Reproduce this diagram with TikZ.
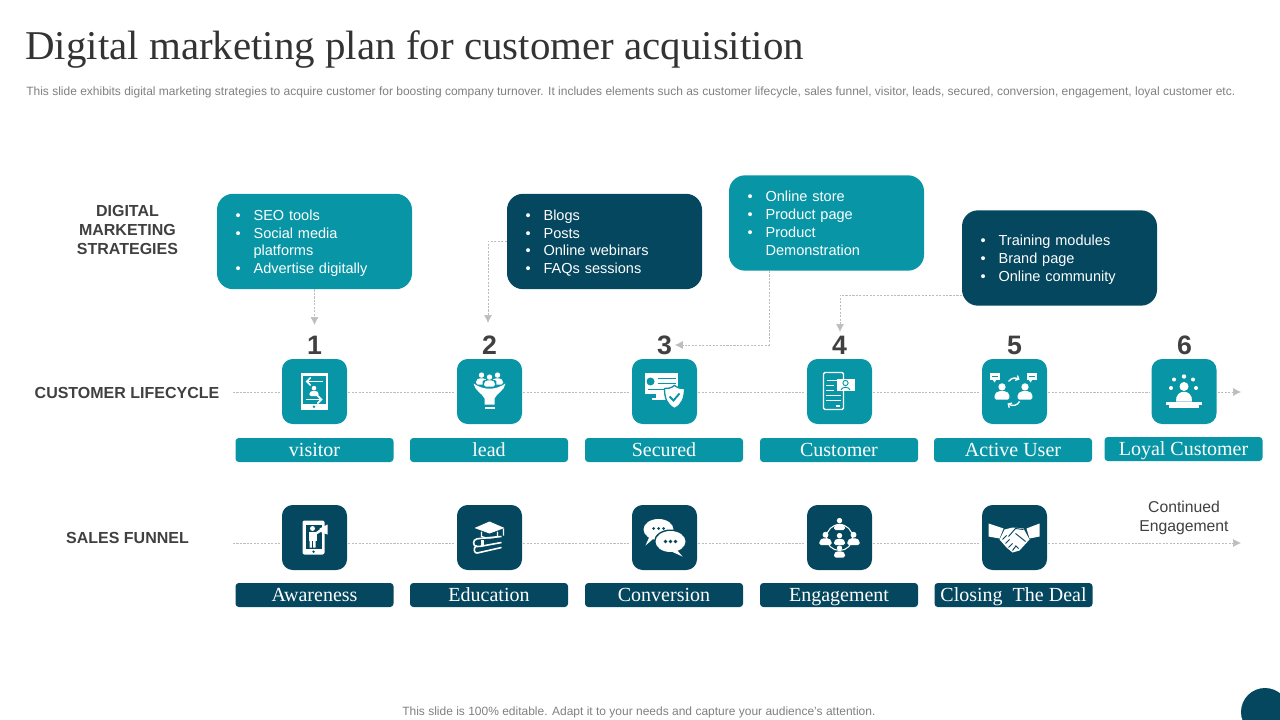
\documentclass[tikz,border=0pt]{standalone}
\usepackage{fontspec}
\setmainfont{Liberation Sans}
\newfontfamily\titlefont{Liberation Serif}
\newfontfamily\tagfont{Liberation Serif}
\usepackage{xcolor}
\usetikzlibrary{arrows.meta, positioning, calc}
\definecolor{TileTeal}{HTML}{0896A6}
\definecolor{TileNavy}{HTML}{04475F}
\definecolor{InkGrey}{HTML}{404040}
\definecolor{SoftGrey}{HTML}{808080}
\definecolor{GuideGrey}{HTML}{BDBDBD}
\newcommand{\stratlist}[1]{\begin{tabular}{@{}p{13.5pt}@{}l@{}}\rule{0pt}{12.3pt}#1\end{tabular}}

\tikzset{
  person/.pic={
    \fill [white] (0,-3.4) circle (2.7);
    \fill [white, rounded corners=1.2pt] (-5.5,6) -- (-5.5,2) -- (-3,-0.2) -- (3,-0.2) -- (5.5,2) -- (5.5,6) -- cycle;
  },
  visitoricon/.pic={
    \fill [white] (-14,-19) rectangle (13,18);
    \fill [TileTeal] (-12,-16) rectangle (11,12);
    \fill [TileTeal] (-0.5,15.2) circle (1.4);
    \draw [white, line width=1.2pt, -{Straight Barb[length=3pt,width=6pt]}] (8,-10) -- (-9,-10);
    \draw [white, line width=1.2pt, -{Straight Barb[length=3pt,width=6pt]}] (-9,8) -- (8,8);
    \pic [scale=0.85] at (-0.5,-0.5) {person};
  },
  funnelicon/.pic={
    \pic at (-8,-13) {person};
    \pic at (8,-13) {person};
    \fill [TileTeal, rounded corners=1pt] (-6.8,-11.5) rectangle (6.8,-4);
    \pic at (0,-11) {person};
    \fill [white] (-16,-8) .. controls (-6,-1) and (6,-1) .. (16,-8) .. controls (15,-1) and (7,2) .. (5,7) -- (5,13) -- (-5,13) -- (-5,7) .. controls (-7,2) and (-15,-1) .. cycle;
    \fill [white] (-5,15) rectangle (5,17.5);
  },
  securedicon/.pic={
    \fill [white] (-20,-19) rectangle (13,2);
    \fill [white] (-9,2) rectangle (1,6);
    \fill [white] (-13,6) rectangle (5,8);
    \fill [TileTeal] (-14,-10) circle (4);
    \draw [TileTeal, line width=0.8pt] (-7,-13) -- (11,-13) (-7,-8) -- (11,-8) (-17,-2) -- (4,-2);
    \fill [white, draw=TileTeal, line width=1pt] (10,-6) .. controls (14,-3) and (17,-3) .. (20,-3) .. controls (20,6) and (18,13) .. (10,17) .. controls (2,13) and (0,6) .. (0,-3) .. controls (3,-3) and (6,-3) .. cycle;
    \draw [TileTeal, line width=1.4pt] (5,5) -- (9,9) -- (15,2);
  },
  customericon/.pic={
    \draw [white, line width=1pt, fill=TileTeal, rounded corners=1pt] (-16,-19) rectangle (4,18);
    \draw [white, line width=0.9pt] (-13,-11) -- (1,-11) (-14,-6) -- (-6,-6) (-14,-1) -- (-6,-1) (-14,4) -- (1,4) (-14,9) -- (1,9) (-4,14.5) -- (0,14.5);
    \fill [white] (-3,-13) rectangle (15,-1);
    \draw [TileTeal, line width=0.7pt] (6,-8.5) circle (2.6) (1.5,-1.5) .. controls (2,-5) and (10,-5) .. (10.5,-1.5);
  },
  activeicon/.pic={
    \fill [white] (-24.5,-19) rectangle (-14.5,-12);
    \fill [white] (-22,-12) -- (-18,-12) -- (-20,-9) -- cycle;
    \fill [white] (12,-19) rectangle (22,-12);
    \fill [white] (14,-12) -- (18,-12) -- (16,-9) -- cycle;
    \draw [TileTeal, line width=0.6pt] (-22.5,-15.5) -- (-16.5,-15.5) (14,-15.5) -- (20,-15.5);
    \pic [scale=1.35] at (-12.5,0) {person};
    \pic [scale=1.35] at (10.5,0) {person};
    \draw [white, line width=1pt, -{Straight Barb[length=2pt,width=4pt]}] (-6,-10) .. controls (-3,-14) and (1,-14) .. (5,-12);
    \draw [white, line width=1pt, -{Straight Barb[length=2pt,width=4pt]}] (5,10) .. controls (3,14) and (-2,15) .. (-7,12);
  },
  loyalicon/.pic={
    \fill [white] (0,-5) circle (4.5);
    \fill [white] (-8,10) .. controls (-9,-3) and (9,-3) .. (8,10) -- cycle;
    \fill [white] (-18,10) rectangle (18,13);
    \fill [white] (-15,13) rectangle (15,16);
    \fill [white] (0,-15) circle (2.2) (-10,-12) circle (2) (9,-12) circle (2) (-13,-3.5) circle (2) (12,-3.5) circle (2);
  },
  awarenessicon/.pic={
    \fill [white, rounded corners=1.5pt] (-12,-17) rectangle (10,17);
    \fill [TileNavy] (-9,-13) rectangle (7,11);
    \fill [TileNavy] (-1,14.2) circle (1.3);
    \fill [white] (-2,-9) circle (2.5);
    \fill [white] (-6,-6) rectangle (2,3);
    \fill [white] (-5,3) rectangle (-2.6,10) (-1.4,3) rectangle (1,10);
    \fill [white] (2,-6) -- (7,-9) -- (7,-6) -- (2,-3) -- cycle;
    \fill [white] (5,-9) -- (13,-13) -- (13,-3) -- (5,-6) -- cycle;
  },
  educationicon/.pic={
    \fill [white] (0,-16) -- (15,-9.5) -- (0,-4) -- (-15,-9.5) -- cycle;
    \draw [white, line width=0.9pt] (-8,-6) -- (-8,-1) .. controls (-3,1) and (3,1) .. (8,-1) -- (8,-6) (14,-9) -- (14,-2);
    \draw [white, line width=1.2pt, rounded corners=2pt] (12,-1) -- (-10,1) .. controls (-17,2) and (-17,9) .. (-10,9) -- (12,5);
    \draw [white, line width=1.2pt, rounded corners=2pt] (-13,8) .. controls (-17,11) and (-15,16) .. (-10,15) -- (12,10);
    \fill [white] (-9,2) rectangle (-6,8);
  },
  conversionicon/.pic={
    \fill [white] (-6,-8) ellipse (15 and 10.5);
    \fill [white] (-15,-1) -- (-12,2) -- (-19,8) -- cycle;
    \fill [TileNavy] (6,4) ellipse (16.5 and 12);
    \fill [white] (6,4) ellipse (15 and 10.5);
    \fill [white] (12,12) -- (18,19) -- (7,14) -- cycle;
    \fill [TileNavy] (-11,-9) circle (1.5) (-6,-9) circle (1.5) (-1,-9) circle (1.5);
    \fill [TileNavy] (1,4) circle (1.9) (6,4) circle (1.9) (11,4) circle (1.9);
  },
  engagementicon/.pic={
    \draw [white, line width=0.8pt] (0,0) circle (13);
    \pic at (0,-13.5) {person};
    \pic [scale=1.1] at (-14,1) {person};
    \pic [scale=1.1] at (14,1) {person};
    \pic at (0,1.5) {person};
    \pic at (0,14) {person};
  },
  dealicon/.pic={
    \fill [white] (-26,-14) -- (-11,-9) -- (-15,1) -- (-26,-1) -- cycle;
    \fill [white] (25,-14) -- (12,-9) -- (15,1) -- (25,-1) -- cycle;
    \fill [white] (-10,-8) -- (-2,-10) -- (9,-9) -- (15,2) -- (5,13) -- (-2,15) -- (-8,10) -- (-15,2) -- cycle;
    \draw [TileNavy, line width=0.7pt] (-6,-1) -- (1,-9) -- (9,-8) (1,-4) -- (11,4) (-12,2) -- (-8,-2) (-9,6) -- (-5,2) (-6,10) -- (-2,6) (-2,13) -- (1,9) (4,11) -- (1,8);
  }
}

\begin{document}
\begin{tikzpicture}[x=0.75pt, y=-0.75pt, >={Latex[length=6pt,width=6pt]},
    headline/.style={anchor=base west, inner sep=0pt},
    sidelabel/.style={font=\bfseries\fontsize{12}{14.25}\selectfont, text=InkGrey, align=center},
    stratbox/.style={rounded corners=12pt, minimum width=146.25pt, minimum height=71.5pt, inner sep=0pt, inner xsep=13.9pt,
        text width=118.4pt, align=left, text=white, font=\fontsize{10.9}{13.3}\selectfont},
    numeral/.style={font=\bfseries\fontsize{20}{20}\selectfont, text=InkGrey, inner sep=2pt},
    tile/.style={rounded corners=8pt, minimum size=48.75pt, inner sep=0pt, outer sep=1pt},
    tagbar/.style={rounded corners=2.5pt, minimum width=118.5pt, minimum height=18pt, inner sep=0pt, text=white,
        text height=11pt, text depth=2pt, font=\tagfont\fontsize{15}{15}\selectfont},
    guide/.style={draw=GuideGrey, line width=0.5pt, dash pattern=on 1.6pt off 1pt}]
    \useasboundingbox (0,0) rectangle (1280,720);
    \clip (0,0) rectangle (1280,720);

    % Headline
    \node [headline, text=InkGrey!80!black, font=\titlefont\fontsize{30.7}{32}\selectfont] (title) at (25,60) {Digital marketing plan for customer acquisition};
    \node [headline, text=SoftGrey, font=\fontsize{9}{11}\selectfont] (subtitle) at (26,96) {This slide exhibits digital marketing strategies to acquire customer for boosting company turnover. It includes elements such as customer lifecycle, sales funnel, visitor, leads, secured, conversion, engagement, loyal customer etc.};
    \node [sidelabel] (stratlabel) at (127.5,230) {DIGITAL\\MARKETING\\STRATEGIES};
    \node [sidelabel] (lifelabel) at (127,393) {CUSTOMER LIFECYCLE};
    \node [sidelabel] (funlabel) at (127.5,538) {SALES FUNNEL};

    % Strategy boxes
    \node [stratbox, fill=TileTeal] (strat1) at (314.5,241.5) {\stratlist{\textbullet & SEO tools\\ \textbullet & Social media\\ & platforms\\ \textbullet & Advertise digitally}};
    \node [stratbox, fill=TileNavy] (strat2) at (604.5,241.5) {\stratlist{\textbullet & Blogs\\ \textbullet & Posts\\ \textbullet & Online webinars\\ \textbullet & FAQs sessions}};
    \node [stratbox, fill=TileTeal] (strat3) at (826.5,223) {\stratlist{\textbullet & Online store\\ \textbullet & Product page\\ \textbullet & Product\\ & Demonstration}};
    \node [stratbox, fill=TileNavy] (strat4) at (1059.5,258) {\stratlist{\textbullet & Training modules\\ \textbullet & Brand page\\ \textbullet & Online community}};

    % Customer lifecycle row
    \foreach \n/\x/\lab/\tagx in {1/314.5/visitor/314.5, 2/489.5/lead/489, 3/664.5/Secured/664, 4/839.5/Customer/839, 5/1014.5/Active User/1013} {
        \node [numeral] (num\n) at (\x,345) {\n};
        \node [tile, fill=TileTeal] (life\n) at (\x,391.5) {};
        \node [tagbar, fill=TileTeal] (lifetag\n) at (\tagx,450) {\lab};
    }
    \node [numeral] (num6) at (1184.5,345) {6};
    \node [tile, fill=TileTeal] (life6) at (1184,391.5) {};
    \node [tagbar, fill=TileTeal] (lifetag6) at (1183.5,449) {Loyal Customer};
    \pic at (life1) {visitoricon};
    \pic at (life2) {funnelicon};
    \pic at (life3) {securedicon};
    \pic at (life4) {customericon};
    \pic at (life5) {activeicon};
    \pic at (life6) {loyalicon};

    % Sales funnel row
    \foreach \n/\x/\lab/\tagx in {1/314.5/Awareness/314.5, 2/489.5/Education/489, 3/664.5/Conversion/664, 4/839.5/Engagement/839, 5/1014.5/Closing\ \ The Deal/1013.5} {
        \node [tile, fill=TileNavy] (fun\n) at (\x,537.5) {};
        \node [tagbar, fill=TileNavy] (funtag\n) at (\tagx,595) {\lab};
    }
    \pic at (fun1) {awarenessicon};
    \pic at (fun2) {educationicon};
    \pic at (fun3) {conversionicon};
    \pic at (fun4) {engagementicon};
    \pic at (fun5) {dealicon};
    \node [font=\fontsize{11.8}{14.25}\selectfont, text=InkGrey, align=center] (continued) at (1184,518) {Continued\\Engagement};

    % Row lines
    \coordinate (lifestart) at (233,392);
    \coordinate (lifeend) at (1241,392);
    \coordinate (funstart) at (233,543);
    \coordinate (funend) at (1241,543);
    \draw [guide] (lifestart) -- (life1.west |- lifestart);
    \draw [guide] (funstart) -- (fun1.west |- funstart);
    \foreach \a/\b in {1/2, 2/3, 3/4, 4/5} {
        \draw [guide] (life\a.east |- lifestart) -- (life\b.west |- lifestart);
        \draw [guide] (fun\a.east |- funstart) -- (fun\b.west |- funstart);
    }
    \draw [guide] (life5.east |- lifestart) -- (life6.west |- lifestart);
    \draw [guide, ->] (life6.east |- lifestart) -- (lifeend);
    \draw [guide, ->] (fun5.east |- funstart) -- (funend);

    % Links from the boxes
    \coordinate (down1) at (314.5,325);
    \coordinate (down2) at (488,323);
    \coordinate (out3) at (769,271);
    \coordinate (out4) at (962,295);
    \coordinate (down4) at (840,332);
    \draw [guide, ->] (strat1.south) -- (down1);
    \draw [guide, ->] (strat2.west) -| (down2);
    \draw [guide, ->] (out3) |- (num3.east);
    \draw [guide, ->] (out4) -| (down4);

    % Footer
    \node [headline, text=SoftGrey, font=\fontsize{9}{11}\selectfont] (footer) at (402,715) {This slide is 100\% editable. Adapt it to your needs and capture your audience's attention.};
    \fill [TileNavy] (1265,712) circle (24);
\end{tikzpicture}
\end{document}
